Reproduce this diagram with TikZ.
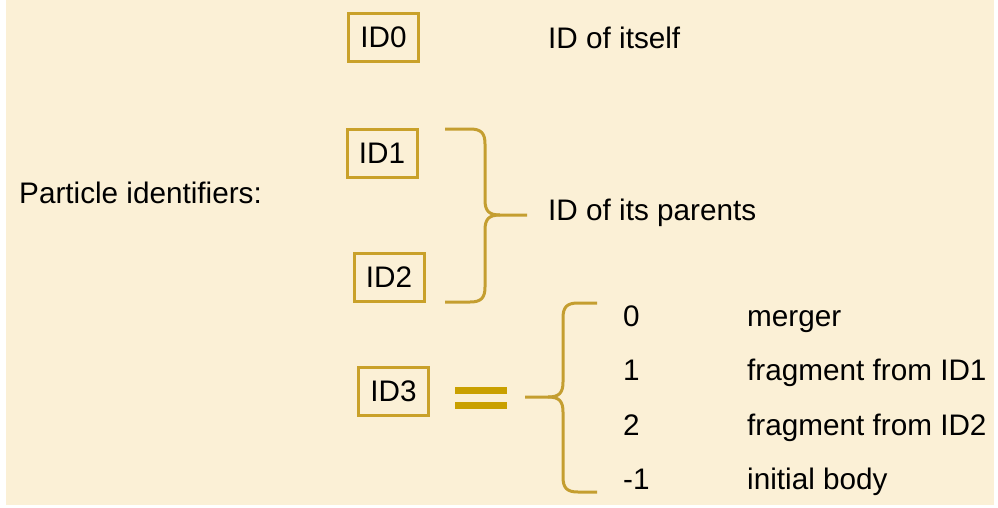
\documentclass[tikz,border=0pt]{standalone}
\usepackage{fontspec}
\setmainfont{Liberation Sans}
\definecolor{parch}{HTML}{FBF0D6}
\definecolor{boxgold}{HTML}{C9A12A}
\definecolor{bracegold}{HTML}{C49E30}
\definecolor{eqgold}{HTML}{C9A000}
\begin{document}
\begin{tikzpicture}[x=1pt,y=-1pt,
  idbox/.style={draw=boxgold,line width=3pt,minimum width=70pt,minimum height=48pt,inner sep=0pt,font=\fontsize{29.7}{35}\selectfont},
  lbl/.style={anchor=base west,inner sep=0pt,font=\fontsize{29.7}{35}\selectfont},
  bracepath/.style={draw=bracegold,line width=3pt,line cap=butt,line join=round}]
\useasboundingbox (0,0) rectangle (998,507);
\fill[white] (0,0) rectangle (998,507);
\fill[parch] (6,0) rectangle (994,505);
% boxes
\node[idbox] (id0) at (383.5,37.5) {ID0};
\node[idbox] (id1) at (382,153) {ID1};
\node[idbox] (id2) at (389,277) {ID2};
\node[idbox] (id3) at (393.5,391.5) {ID3};
% labels
\node[lbl] (self) at (548,48) {ID of itself};
\node[lbl] (parents) at (548,220) {ID of its parents};
\node[lbl] (pid) at (19,203) {Particle identifiers:};
\node[lbl] (v0) at (623,326) {0};
\node[lbl] (v1) at (623,380) {1};
\node[lbl] (v2) at (623,435) {2};
\node[lbl] (v3) at (623,489) {-1};
\node[lbl] (t0) at (747,326) {merger};
\node[lbl] (t1) at (747,380) {fragment from ID1};
\node[lbl] (t2) at (747,435) {fragment from ID2};
\node[lbl] (t3) at (747,489) {initial body};
% brace 1
\coordinate (b1top) at (445,129);
\coordinate (b1tip) at (527,215);
\coordinate (b1bot) at (445,302);
\draw[bracepath] (b1top) -- (470,129) .. controls (481,129) and (485,133) .. (485,144)
  -- (485,200) .. controls (485,211) and (489,215) .. (500,215) -- (b1tip);
\draw[bracepath] (b1bot) -- (470,302) .. controls (481,302) and (485,298) .. (485,287)
  -- (485,230) .. controls (485,219) and (489,215) .. (500,215);
% equals sign
\fill[eqgold] (455,387) rectangle (507,394);
\fill[eqgold] (455,402) rectangle (507,409);
% brace 2
\coordinate (b2top) at (597,303);
\coordinate (b2tip) at (525,397);
\coordinate (b2bot) at (597,492);
\draw[bracepath] (b2top) -- (578,303) .. controls (567,303) and (563,307) .. (563,318)
  -- (563,382) .. controls (563,393) and (559,397) .. (548,397) -- (b2tip);
\draw[bracepath] (b2bot) -- (578,492) .. controls (567,492) and (563,488) .. (563,477)
  -- (563,412) .. controls (563,401) and (559,397) .. (548,397);
\end{tikzpicture}
\end{document}
